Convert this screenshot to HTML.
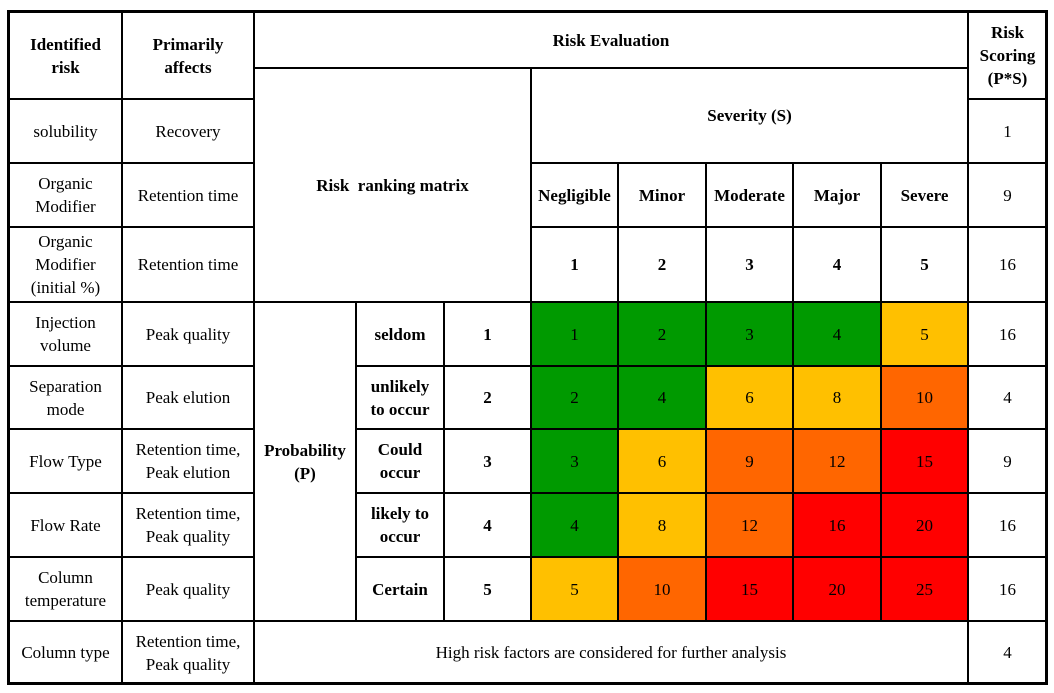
<!DOCTYPE html>
<html><head><meta charset="utf-8">
<style>
html,body{margin:0;padding:0;background:#fff;}
#t{position:relative;width:1054px;height:693px;overflow:hidden;font-family:"Liberation Serif","Times New Roman","DejaVu Serif",serif;font-size:17px;color:#000;}
.c{position:absolute;box-sizing:border-box;border:2px solid #000;display:flex;align-items:center;justify-content:center;text-align:center;line-height:23px;font-family:"Liberation Serif","Times New Roman","DejaVu Serif",serif;}
.b{font-weight:bold;}
#outer{position:absolute;left:7px;top:10px;width:1041px;height:675px;border:3px solid #000;box-sizing:border-box;pointer-events:none;}
</style></head>
<body>
<div id="t"></div>
<script>
const riskFactors=["solubility","Organic<br>Modifier","Organic<br>Modifier<br>(initial %)","Injection<br>volume","Separation<br>mode","Flow Type","Flow Rate","Column<br>temperature","Column type"];
const affects=["Recovery","Retention time","Retention time","Peak quality","Peak elution","Retention time,<br>Peak elution","Retention time,<br>Peak quality","Peak quality","Retention time,<br>Peak quality"];
const scores=[1,9,16,16,4,9,16,16,4];
const severityLabels=["Negligible","Minor","Moderate","Major","Severe"];
const severityValues=[1,2,3,4,5];
const probLabels=["seldom","unlikely<br>to occur","Could<br>occur","likely to<br>occur","Certain"];
const probValues=[1,2,3,4,5];
const X=[8,121,253,355,443,530,617,705,792,880,967,1046];
const Y=[11,98,162,226,301,365,428,492,556,620,683];
const t=document.getElementById('t');
function cell(x0,y0,x1,y1,html,bold,bg,name){
  const d=document.createElement('div');
  d.className='c'+(bold?' b':'');
  d.style.left=x0+'px';d.style.top=y0+'px';
  d.style.width=(x1-x0+2)+'px';d.style.height=(y1-y0+2)+'px';
  if(bg)d.style.background=bg;
  d.innerHTML=html;
  
  
  t.appendChild(d);return d;
}
function color(v){if(v<=4)return '#009a00';if(v<=8)return '#ffc000';if(v<=12)return '#ff6600';return '#ff0000';}
cell(X[0],Y[0],X[1],Y[1],'Identified<br>risk',true,null,'identified-risk-header');
cell(X[1],Y[0],X[2],Y[1],'Primarily<br>affects',true,null,'primarily-affects-header');
cell(X[2],Y[0],X[10],67,'Risk Evaluation',true,null,'risk-evaluation-header');
cell(X[10],Y[0],X[11],Y[1],'Risk<br>Scoring<br>(P*S)',true,null,'risk-scoring-header');
cell(X[2],67,X[5],Y[4],'Risk&nbsp; ranking matrix',true,null,'risk-ranking-matrix-label');
cell(X[5],67,X[10],Y[2],'Severity (S)',true,null,'severity-header');
for(let i=0;i<5;i++){
  cell(X[5+i],Y[2],X[6+i],Y[3],severityLabels[i],true,null,'severity-label');
  cell(X[5+i],Y[3],X[6+i],Y[4],severityValues[i],true,null,'severity-value');
}
for(let r=0;r<riskFactors.length;r++){
  cell(X[0],Y[1+r],X[1],Y[2+r],riskFactors[r],false,null,'risk-factor');
  cell(X[1],Y[1+r],X[2],Y[2+r],affects[r],false,null,'affects-cell');
  cell(X[10],Y[1+r],X[11],Y[2+r],scores[r],false,null,'risk-score');
}
cell(X[2],Y[4],X[3],Y[9],'Probability<br>(P)',true,null,'probability-header');
for(let p=0;p<5;p++){
  cell(X[3],Y[4+p],X[4],Y[5+p],probLabels[p],true,null,'probability-label');
  cell(X[4],Y[4+p],X[5],Y[5+p],probValues[p],true,null,'probability-value');
  for(let s=0;s<5;s++){
    const v=probValues[p]*severityValues[s];
    cell(X[5+s],Y[4+p],X[6+s],Y[5+p],v,false,color(v),'matrix-cell');
  }
}
cell(X[2],Y[9],X[10],Y[10],'High risk factors are considered for further analysis',false,null,'footer-note');
const o=document.createElement('div');o.id='outer';


t.appendChild(o);
</script>
</body></html>
